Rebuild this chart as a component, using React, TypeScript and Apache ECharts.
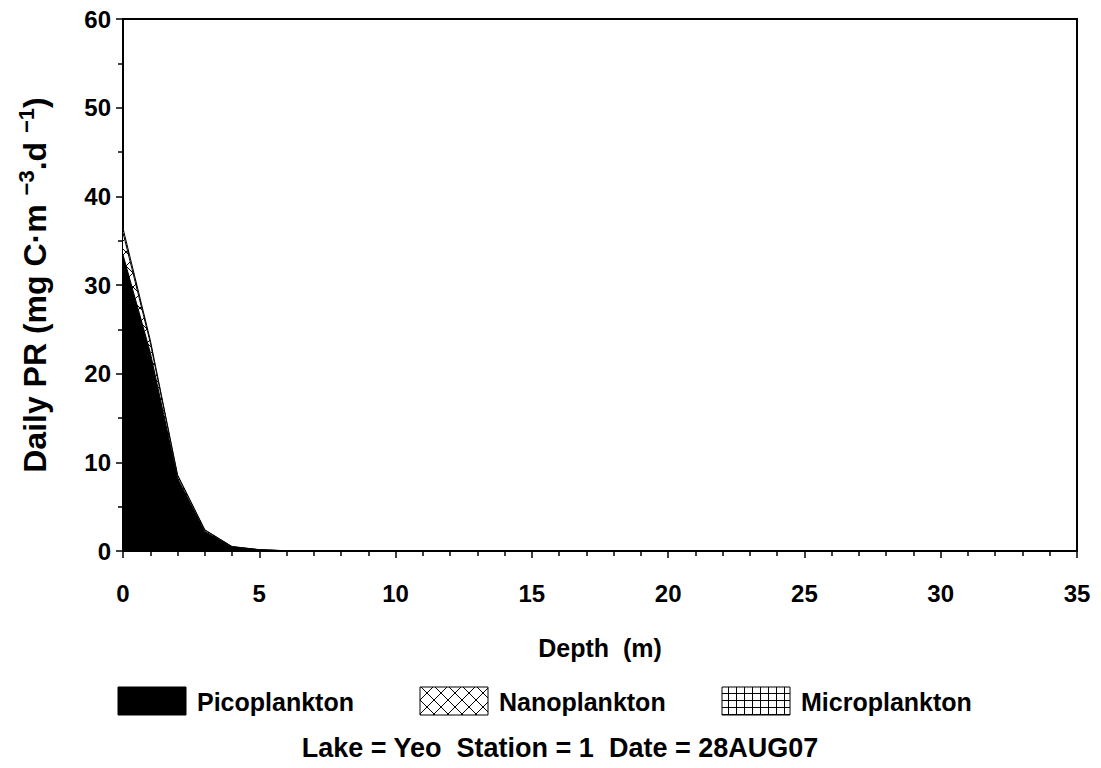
import React, { useEffect, useRef } from "react";
import * as echarts from "echarts";

// Depth profile (m) and daily primary production per size fraction (mg C·m⁻³·d⁻¹)
const depths = [0, 1, 2, 3, 4, 5, 6];
const picoplankton = [33.4, 22.4, 8.2, 2.2, 0.45, 0.13, 0.02];
const nanoplankton = [2.5, 1.1, 0.3, 0.15, 0.04, 0.015, 0.005];
const microplankton = [0.5, 0.3, 0.1, 0.05, 0.01, 0.005, 0.0];

const seriesNames = ["Picoplankton", "Nanoplankton", "Microplankton"];
const xTicks = { min: 0, max: 35, interval: 5 };
const yTicks = { min: 0, max: 60, interval: 10 };
const footerText = "Lake = Yeo  Station = 1  Date = 28AUG07";

const FONT = "'Liberation Sans', Arial, sans-serif";

function makeCrossHatch(): HTMLCanvasElement {
  const c = document.createElement("canvas");
  c.width = 14;
  c.height = 14;
  const g = c.getContext("2d")!;
  g.fillStyle = "#fff";
  g.fillRect(0, 0, 14, 14);
  g.strokeStyle = "#000";
  g.lineWidth = 1;
  g.beginPath();
  g.moveTo(0, 0);
  g.lineTo(14, 14);
  g.moveTo(14, 0);
  g.lineTo(0, 14);
  g.stroke();
  return c;
}

function makeGrid(): HTMLCanvasElement {
  const c = document.createElement("canvas");
  c.width = 8;
  c.height = 7;
  const g = c.getContext("2d")!;
  g.fillStyle = "#fff";
  g.fillRect(0, 0, 8, 7);
  g.fillStyle = "#000";
  g.fillRect(0, 0, 8, 1);
  g.fillRect(0, 0, 1, 7);
  return c;
}

export default function App() {
  const ref = useRef<HTMLDivElement>(null);

  useEffect(() => {
    if (!ref.current) return;
    const chart = echarts.init(ref.current, undefined, { renderer: "svg" });

    const crossFill: any = { image: makeCrossHatch(), repeat: "repeat", imageWidth: 14, imageHeight: 14 };
    const gridFill: any = { image: makeGrid(), repeat: "repeat", imageWidth: 8, imageHeight: 7 };
    const fills: any[] = ["#000", crossFill, gridFill];

    // Cumulative layers: each fraction sits on top of the smaller ones.
    const layers = [picoplankton, nanoplankton, microplankton];
    const cumulative: number[][] = [];
    layers.forEach((arr, i) => {
      cumulative.push(arr.map((v, k) => v + (i > 0 ? cumulative[i - 1][k] : 0)));
    });

    // Draw the tallest layer first so the smaller ones paint over it.
    const series = [2, 1, 0].map((i, order) => ({
      name: seriesNames[i],
      type: "line",
      symbol: "none",
      data: depths.map((d, k) => [d, cumulative[i][k]]),
      lineStyle: { color: "#000", width: 1 },
      areaStyle: { color: fills[i], opacity: 1 },
      z: 2 + order,
    }));

    const legendX = [118, 420, 722];
    const legend: any[] = [];
    seriesNames.forEach((name, i) => {
      legend.push({
        type: "rect",
        shape: { x: legendX[i], y: 687, width: 68, height: 28 },
        style: { fill: fills[i], stroke: "#000", lineWidth: 1 },
      });
      legend.push({
        type: "text",
        x: legendX[i] + 79,
        y: 702,
        style: {
          text: name,
          font: `bold 25px ${FONT}`,
          fill: "#000",
          textAlign: "left",
          textVerticalAlign: "middle",
        },
      });
    });

    chart.setOption({
      animation: false,
      backgroundColor: "#fff",
      grid: {
        left: 123,
        right: 24,
        top: 19,
        bottom: 217,
        show: true,
        borderColor: "#000",
        borderWidth: 2,
      },
      xAxis: {
        type: "value",
        min: xTicks.min,
        max: xTicks.max,
        interval: xTicks.interval,
        name: "Depth  (m)",
        nameLocation: "middle",
        nameGap: 84,
        nameTextStyle: { fontFamily: FONT, fontWeight: "bold", fontSize: 25, color: "#000" },
        axisLine: { show: true, lineStyle: { color: "#000", width: 2 } },
        axisTick: { show: true, length: 7, lineStyle: { color: "#000", width: 1.5 } },
        minorTick: { show: true, splitNumber: 5, length: 5, lineStyle: { color: "#000", width: 1.5 } },
        axisLabel: { fontFamily: FONT, fontWeight: "bold", fontSize: 24, color: "#000", margin: 30 },
        splitLine: { show: false },
      },
      yAxis: {
        type: "value",
        min: yTicks.min,
        max: yTicks.max,
        interval: yTicks.interval,
        axisLine: { show: true, lineStyle: { color: "#000", width: 2 } },
        axisTick: { show: true, length: 7, lineStyle: { color: "#000", width: 1.5 } },
        minorTick: { show: true, splitNumber: 2, length: 5, lineStyle: { color: "#000", width: 1.5 } },
        axisLabel: { fontFamily: FONT, fontWeight: "bold", fontSize: 24, color: "#000", margin: 12 },
        splitLine: { show: false },
      },
      series,
      graphic: [
        {
          type: "text",
          x: 33,
          y: 285,
          rotation: Math.PI / 2,
          style: {
            text: "{n|Daily PR (mg C·m }{s|−3}{n|.d }{s|−1}{n|)}",
            textAlign: "center",
            textVerticalAlign: "middle",
            fill: "#000",
            rich: {
              n: { fontFamily: FONT, fontWeight: "bold", fontSize: 32, lineHeight: 35, verticalAlign: "bottom", fill: "#000" },
              s: { fontFamily: FONT, fontWeight: "bold", fontSize: 22, lineHeight: 22, verticalAlign: "top", fill: "#000" },
            },
          },
        },
        ...legend,
        {
          type: "text",
          x: 560,
          y: 748,
          style: {
            text: footerText,
            font: `bold 27px ${FONT}`,
            fill: "#000",
            textAlign: "center",
            textVerticalAlign: "middle",
          },
        },
      ],
    });

    return () => chart.dispose();
  }, []);

  return (
    <div
      ref={ref}
      style={{ position: "fixed", left: 0, top: 0, width: 1101, height: 768, background: "#fff" }}
    />
  );
}
